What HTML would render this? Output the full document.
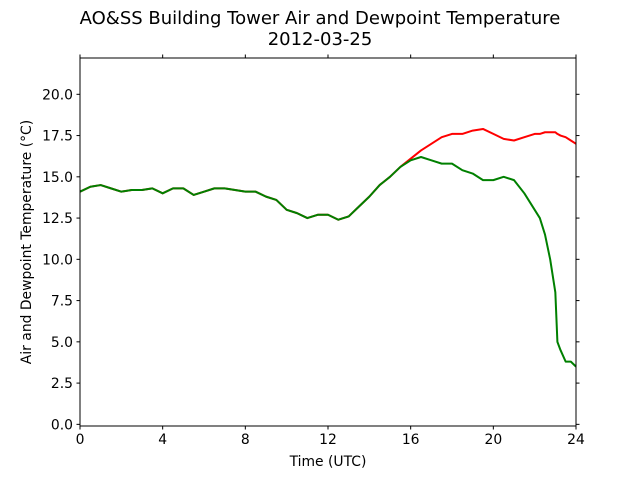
<!DOCTYPE html>
<html><head><meta charset="utf-8"><style>body{margin:0;background:#fff}svg{display:block;font-family:"DejaVu Sans","Liberation Sans",sans-serif}</style></head>
<body>
<svg id="chart" width="640" height="480" viewBox="0 0 640 480">
<text x="320" y="24" font-size="18" text-anchor="middle">AO&amp;SS Building Tower Air and Dewpoint Temperature</text>
<text x="320" y="45" font-size="18" text-anchor="middle">2012-03-25</text>
<g id="plot"></g>
<text x="328" y="466" font-size="13.9" text-anchor="middle">Time (UTC)</text>
<text transform="translate(31,242) rotate(-90)" font-size="13.9" text-anchor="middle">Air and Dewpoint Temperature (°C)</text>
</svg>
<script>
const times=[0,0.5,1,1.5,2,2.5,3,3.5,4,4.5,5,5.5,6,6.5,7,7.5,8,8.5,9,9.5,10,10.5,11,11.5,12,12.5,13,13.5,14,14.5,15,15.5,16,16.5,17,17.5,18,18.5,19,19.5,20,20.5,21,21.5,22,22.25,22.5,22.75,23,23.1,23.25,23.5,23.75,24];
const dewpoint=[14.1,14.4,14.5,14.3,14.1,14.2,14.2,14.3,14.0,14.3,14.3,13.9,14.1,14.3,14.3,14.2,14.1,14.1,13.8,13.6,13.0,12.8,12.5,12.7,12.7,12.4,12.6,13.2,13.8,14.5,15.0,15.6,16.0,16.2,16.0,15.8,15.8,15.4,15.2,14.8,14.8,15.0,14.8,14.0,13.0,12.5,11.5,10.0,8.0,5.0,4.5,3.8,3.8,3.5];
const airTemp=[14.1,14.4,14.5,14.3,14.1,14.2,14.2,14.3,14.0,14.3,14.3,13.9,14.1,14.3,14.3,14.2,14.1,14.1,13.8,13.6,13.0,12.8,12.5,12.7,12.7,12.4,12.6,13.2,13.8,14.5,15.0,15.6,16.1,16.6,17.0,17.4,17.6,17.6,17.8,17.9,17.6,17.3,17.2,17.4,17.6,17.6,17.7,17.7,17.7,17.6,17.5,17.4,17.2,17.0];
const xTicks=[0,4,8,12,16,20,24];
const yTicks=[0,2.5,5,7.5,10,12.5,15,17.5,20];
const yTickLabels=["0.0","2.5","5.0","7.5","10.0","12.5","15.0","17.5","20.0"];
const L=80,R=576,T=58,B=426,xmin=0,xmax=24,ymin=-0.1,ymax=22.2;
const sx=v=>L+(v-xmin)/(xmax-xmin)*(R-L);
const sy=v=>B-(v-ymin)/(ymax-ymin)*(B-T);
const g=document.getElementById('plot');const NS='http://www.w3.org/2000/svg';
function mk(t,a){const e=document.createElementNS(NS,t);for(const k in a)e.setAttribute(k,a[k]);g.appendChild(e);return e;}
function line(vals,color,name){const p=mk('polyline',{points:times.map((t,i)=>sx(t)+','+sy(vals[i])).join(' '),fill:'none',stroke:color,'stroke-width':2,'stroke-linejoin':'round'});

}
line(airTemp,'#ff0000','air-temperature-line');
line(dewpoint,'#008000','dewpoint-line');
const fr=mk('rect',{x:L,y:T,width:R-L,height:B-T,fill:'none',stroke:'#000','stroke-width':1});


xTicks.forEach(v=>{const x=sx(v);mk('line',{x1:x,x2:x,y1:B,y2:B+3.5,stroke:'#000'});mk('line',{x1:x,x2:x,y1:T,y2:T-3.5,stroke:'#000'});
const t=mk('text',{x:x,y:B+18,'font-size':13.9,'text-anchor':'middle'});t.textContent=v;

});
yTicks.forEach((v,i)=>{const y=sy(v);mk('line',{x1:L-3.5,x2:L,y1:y,y2:y,stroke:'#000'});mk('line',{x1:R,x2:R+3.5,y1:y,y2:y,stroke:'#000'});
const t=mk('text',{x:L-7,y:y+5,'font-size':13.9,'text-anchor':'end'});t.textContent=yTickLabels[i];

});
</script>
</body></html>
